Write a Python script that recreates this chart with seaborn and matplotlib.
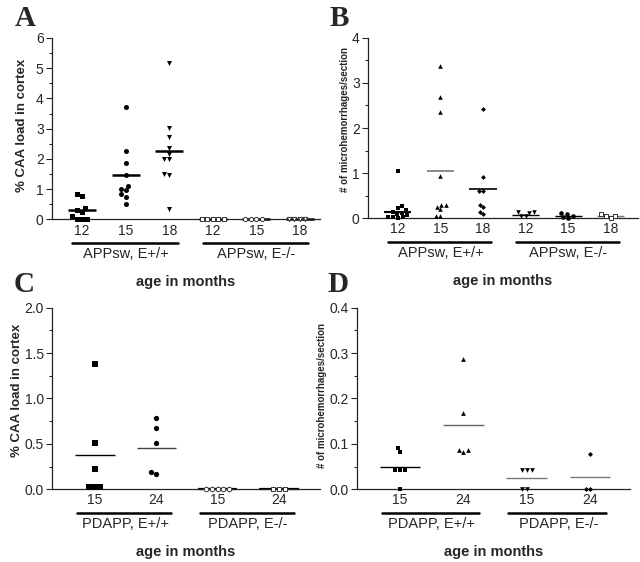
import pandas as pd
import seaborn as sns
import matplotlib.pyplot as plt
from matplotlib.ticker import MultipleLocator

# values
# A: % CAA load in cortex, APPsw mice
a_ages = ["12", "15", "18", "12", "15", "18"]
a_groups = ["APPsw, E+/+", "APPsw, E-/-"]
a_wt12 = [0.78, 0.83, 0.33, 0.25, 0.38, 0.02, 0.02, 0.02, 0.1]
a_wt15 = [3.72, 2.25, 1.87, 1.46, 1.12, 1.02, 0.98, 0.85, 0.76, 0.51]
a_wt18 = [5.18, 3.02, 2.73, 2.36, 2.18, 2.0, 2.0, 1.5, 1.46, 0.35]
a_ko12 = [0, 0, 0, 0, 0]
a_ko15 = [0, 0, 0, 0]
a_ko18 = [0, 0, 0, 0]
a_means = [0.31, 1.46, 2.27, 0, 0, 0]

# B: microhemorrhages/section, APPsw mice
b_ages = ["12", "15", "18", "12", "15", "18"]
b_groups = ["APPsw, E+/+", "APPsw, E-/-"]
b_wt12 = [1.05, 0.27, 0.22, 0.18, 0.15, 0.12, 0.1, 0.07, 0.02, 0.02, 0.02, 0.0]
b_wt15 = [3.38, 2.69, 2.36, 0.94, 0.30, 0.26, 0.20, 0.30, 0.04, 0.04]
b_wt18 = [2.42, 0.92, 0.6, 0.6, 0.29, 0.24, 0.1, 0.15]
b_ko12 = [0.14, 0.12, 0.06, 0.06, 0.14]
b_ko15 = [0.1, 0.0, 0.04, 0.11, 0.02]
b_ko18 = [0.04, 0.09, 0.0, 0.04]
b_means = [0.13, 1.05, 0.66, 0.08, 0.05, 0.04]

# C: % CAA load in cortex, PDAPP mice
c_ages = ["15", "24", "15", "24"]
c_groups = ["PDAPP, E+/+", "PDAPP, E-/-"]
c_wt15 = [1.38, 0.51, 0.22, 0.03, 0.03, 0.03]
c_wt24 = [0.79, 0.68, 0.51, 0.165, 0.19]
c_ko15 = [0, 0, 0, 0, 0]
c_ko24 = [0, 0, 0]
c_means = [0.38, 0.46, 0, 0]

# D: microhemorrhages/section, PDAPP mice
d_ages = ["15", "24", "15", "24"]
d_groups = ["PDAPP, E+/+", "PDAPP, E-/-"]
d_wt15 = [0.092, 0.083, 0.043, 0.043, 0.043, 0.0]
d_wt24 = [0.286, 0.167, 0.086, 0.082, 0.086]
d_ko15 = [0.043, 0.043, 0.043, 0.0, 0.0]
d_ko24 = [0.078, 0.0, 0.0]
d_means = [0.05, 0.142, 0.025, 0.026]

sns.set_style("ticks")
plt.rcParams['font.family'] = ['Liberation Sans', 'DejaVu Sans']

W, H = 640, 562
fig = plt.figure(figsize=(W / 100, H / 100), dpi=100)


def ftext(x, y, s, **kw):
    fig.text(x / W, 1 - y / H, s, ha="center", va="center", **kw)


def panel(box, ages, groups, vals, means, xlim, ylim, major, markers, opens,
          line_colors, pad, msize, ylab, ylab_xy, ylab_size, letter, letter_xy):
    left, top, right, bottom = box
    ax = fig.add_axes([left / W, 1 - bottom / H, (right - left) / W, (bottom - top) / H])
    cats = [f"c{i}" for i in range(len(ages))]
    df = pd.DataFrame([(c, v) for c, vs in zip(cats, vals) for v in vs], columns=["cat", "val"])
    ax.set_ylim(0, ylim)
    ax.set_xlim(*xlim)
    for c, m, o in zip(cats, markers, opens):
        sz = msize * (0.75 if m == "D" else 1) * (0.85 if o else 1)
        sns.swarmplot(data=df[df["cat"] == c], x="cat", y="val", order=cats, ax=ax,
                      marker=m, size=sz,
                      color="white" if o else "black",
                      edgecolor="#333333", linewidth=0.7 if o else 0, clip_on=False, zorder=3)
    for i, (mv, lc) in enumerate(zip(means, line_colors)):
        ax.hlines(mv, i - 0.32, i + 0.32, color=lc[0], lw=lc[1], zorder=2, clip_on=False)
    ax.set_xlim(*xlim)
    ax.set_ylim(0, ylim)
    ax.set_xticks(range(len(ages)), ages)
    ax.set_xlabel("")
    ax.set_ylabel("")
    ax.yaxis.set_major_locator(MultipleLocator(major))
    ax.yaxis.set_minor_locator(MultipleLocator(major / 2))
    ax.tick_params(axis="x", length=0, pad=3, labelsize=10)
    ax.tick_params(axis="y", which="major", length=4, width=0.8, labelsize=10, pad=2)
    ax.tick_params(axis="y", which="minor", length=2, width=0.8)
    sns.despine(ax=ax)
    for s in ("left", "bottom"):
        ax.spines[s].set_color("#222222")
        ax.spines[s].set_linewidth(0.9)
    h = bottom - top
    n = len(ages) // 2
    tr = ax.get_xaxis_transform()
    for g, name in enumerate(groups):
        x0, x1 = g * n - pad, g * n + n - 1 + pad * 0.85
        ax.plot([x0, x1], [-24 / h, -24 / h], color="black", lw=1.8, transform=tr, clip_on=False)
        ax.text(g * n + (n - 1) / 2, -35 / h, name, transform=tr, ha="center", va="center", fontsize=10.5)
    ax.text(0.5, -63 / h, "age in months", transform=ax.transAxes, ha="center", va="center",
            fontsize=10.5, fontweight="bold")
    ftext(*ylab_xy, ylab, rotation=90, fontsize=ylab_size, fontweight="bold")
    ftext(*letter_xy, letter, fontsize=21, fontweight="bold", family=["Liberation Serif", "DejaVu Serif"])
    return ax


panel((52, 38, 320, 219.5), a_ages, a_groups,
      [a_wt12, a_wt15, a_wt18, a_ko12, a_ko15, a_ko18], a_means,
      (-0.69, 5.46), 6, 1, ["s", "o", "v", "s", "o", "v"], [0, 0, 0, 1, 1, 1],
      [("black", 1.8)] * 6, 0.23, 3.6,
      "% CAA load in cortex", (22, 125), 9.5, "A", (25, 18))

panel((368, 37.7, 638, 218.3), b_ages, b_groups,
      [b_wt12, b_wt15, b_wt18, b_ko12, b_ko15, b_ko18], b_means,
      (-0.70, 5.64), 4, 1, ["s", "^", "D", "v", "o", "s"], [0, 0, 0, 0, 0, 1],
      [("black", 1.5), ("#777777", 1.2), ("black", 1.2), ("black", 1.0), ("black", 1.0), ("#777777", 1.0)],
      0.23, 3.3,
      "# of microhemorrhages/section", (345, 120), 7, "B", (339, 19))

panel((52, 307.7, 320, 489.3), c_ages, c_groups,
      [c_wt15, c_wt24, c_ko15, c_ko24], c_means,
      (-0.70, 3.67), 2, 0.5, ["s", "o", "o", "s"], [0, 0, 1, 1],
      [("black", 1.0), ("#444444", 1.0), ("black", 1.6), ("black", 1.6)],
      0.29, 3.8,
      "% CAA load in cortex", (17, 390), 9.5, "C", (24, 284))

panel((357, 307.7, 630, 489.3), d_ages, d_groups,
      [d_wt15, d_wt24, d_ko15, d_ko24], d_means,
      (-0.68, 3.63), 0.4, 0.1, ["s", "^", "v", "D"], [0, 0, 0, 0],
      [("black", 1.0), ("#666666", 1.0), ("#777777", 1.0), ("#777777", 1.0)],
      0.29, 3.4,
      "# of microhemorrhages/section", (322, 395), 7, "D", (338, 285))

fig.savefig("out.png", dpi=100)
